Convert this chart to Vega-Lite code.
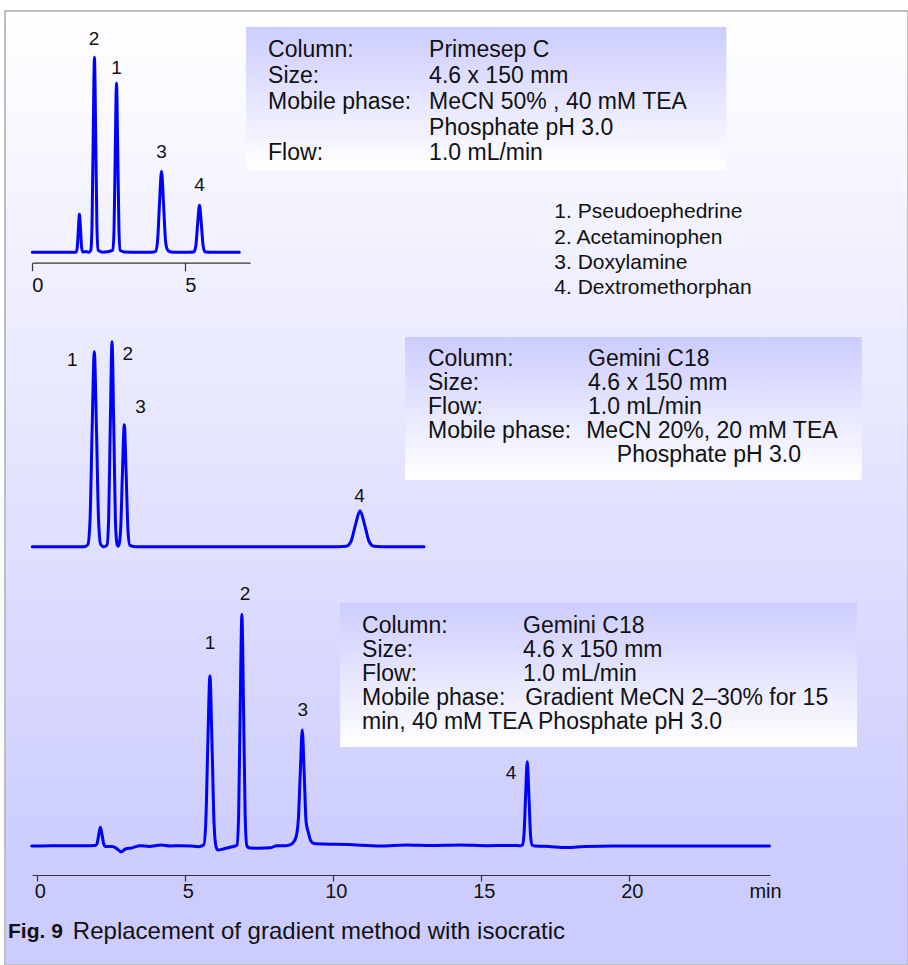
{
  "$schema": "https://vega.github.io/schema/vega-lite/v6.json",
  "width": 903,
  "height": 954,
  "autosize": {"type": "none"},
  "padding": {"left": 5, "top": 11, "right": 0, "bottom": 0},
  "background": "#ffffff",
  "config": {
    "view": {
      "fill": {"gradient": "linear", "x1": 0, "y1": 0, "x2": 0, "y2": 1,
        "stops": [{"offset": 0, "color": "#ffffff"}, {"offset": 0.9, "color": "#ccccff"}, {"offset": 1, "color": "#ccccff"}]},
      "stroke": "#bdbdbd",
      "strokeWidth": 2
    },
    "font": "Liberation Sans",
    "text": {"font": "Liberation Sans", "color": "#111111"}
  },
  "datasets": {
    "topTrace": [
      {"t": 0, "s": 0}, {"t": 1.40, "s": 0},
      {"t": 1.435, "s": 0.4}, {"t": 1.47, "s": 5.1}, {"t": 1.505, "s": 23.1}, {"t": 1.54, "s": 38}, {"t": 1.575, "s": 23.1}, {"t": 1.61, "s": 5.1}, {"t": 1.645, "s": 0.4},
      {"t": 1.75, "s": 0.8}, {"t": 1.85, "s": 0},
      {"t": 1.91, "s": 2.1}, {"t": 1.95, "s": 26.3}, {"t": 1.99, "s": 118.4}, {"t": 2.03, "s": 195}, {"t": 2.07, "s": 118.4}, {"t": 2.11, "s": 26.3}, {"t": 2.15, "s": 2.1},
      {"t": 2.3, "s": 0},
      {"t": 2.63, "s": 1.9}, {"t": 2.67, "s": 22.8}, {"t": 2.71, "s": 102.6}, {"t": 2.75, "s": 169}, {"t": 2.79, "s": 102.6}, {"t": 2.83, "s": 22.8}, {"t": 2.87, "s": 1.9},
      {"t": 3.0, "s": 0.4}, {"t": 3.5, "s": 0}, {"t": 3.9, "s": 0},
      {"t": 4.025, "s": 0.9}, {"t": 4.09, "s": 10.9}, {"t": 4.155, "s": 49.2}, {"t": 4.22, "s": 81}, {"t": 4.285, "s": 49.2}, {"t": 4.35, "s": 12}, {"t": 4.415, "s": 2.5}, {"t": 4.5, "s": 0.6}, {"t": 4.7, "s": 0},
      {"t": 5.15, "s": 0},
      {"t": 5.28, "s": 0.5}, {"t": 5.34, "s": 6.3}, {"t": 5.40, "s": 28.5}, {"t": 5.46, "s": 47}, {"t": 5.52, "s": 28.5}, {"t": 5.58, "s": 6.3}, {"t": 5.64, "s": 0.5}, {"t": 5.8, "s": 0},
      {"t": 6.76, "s": 0}
    ],
    "topText": [
      {"t": 2.02, "s": 213.3, "text": "2"},
      {"t": 2.75, "s": 184.3, "text": "1"},
      {"t": 4.22, "s": 100.3, "text": "3"},
      {"t": 5.46, "s": 67.3, "text": "4"}
    ],
    "topBox": [{"t0": 6.98, "t1": 22.67, "s0": 225.3, "s1": 82.3}],
    "topBoxText": [
      {"t": 7.70, "s": 202.3, "text": "Column:"},
      {"t": 7.70, "s": 176.3, "text": "Size:"},
      {"t": 7.70, "s": 150.3, "text": "Mobile phase:"},
      {"t": 7.70, "s": 99.3, "text": "Flow:"},
      {"t": 12.96, "s": 202.3, "text": "Primesep C"},
      {"t": 12.96, "s": 176.3, "text": "4.6 x 150 mm"},
      {"t": 12.96, "s": 150.3, "text": "MeCN 50% , 40 mM TEA"},
      {"t": 12.96, "s": 124.8, "text": "Phosphate pH 3.0"},
      {"t": 12.96, "s": 99.3, "text": "1.0 mL/min"}
    ],
    "legendText": [
      {"t": 17.05, "s": 40.3, "text": "1. Pseudoephedrine"},
      {"t": 17.05, "s": 14.8, "text": "2. Acetaminophen"},
      {"t": 17.05, "s": -10.2, "text": "3. Doxylamine"},
      {"t": 17.05, "s": -35.2, "text": "4. Dextromethorphan"}
    ],
    "midTrace": [
      {"t": 0, "s": 0}, {"t": 1.7, "s": 0},
      {"t": 1.816, "s": 2.1}, {"t": 1.886, "s": 26.3}, {"t": 1.956, "s": 118.4}, {"t": 2.026, "s": 195}, {"t": 2.096, "s": 118.4}, {"t": 2.166, "s": 26.3}, {"t": 2.236, "s": 2.1},
      {"t": 2.34, "s": 0},
      {"t": 2.44, "s": 1.5}, {"t": 2.495, "s": 27.7}, {"t": 2.55, "s": 124.4}, {"t": 2.605, "s": 205}, {"t": 2.66, "s": 124.4}, {"t": 2.715, "s": 27.7}, {"t": 2.77, "s": 2.3},
      {"t": 2.80, "s": 0.5},
      {"t": 2.826, "s": 1.3}, {"t": 2.886, "s": 16.5}, {"t": 2.946, "s": 74}, {"t": 3.006, "s": 122}, {"t": 3.066, "s": 74}, {"t": 3.126, "s": 16.5}, {"t": 3.186, "s": 1.3}, {"t": 3.35, "s": 0},
      {"t": 10.0, "s": 0},
      {"t": 10.26, "s": 0.4}, {"t": 10.41, "s": 4.9}, {"t": 10.56, "s": 21.9}, {"t": 10.71, "s": 36}, {"t": 10.86, "s": 21.9}, {"t": 11.01, "s": 4.9}, {"t": 11.16, "s": 0.4}, {"t": 11.4, "s": 0},
      {"t": 12.8, "s": 0}
    ],
    "midText": [
      {"t": 1.31, "s": 186.7, "text": "1"},
      {"t": 3.12, "s": 192.7, "text": "2"},
      {"t": 3.54, "s": 139.7, "text": "3"},
      {"t": 10.69, "s": 51, "text": "4"}
    ],
    "midBox": [{"t0": 12.18, "t1": 27.11, "s0": 209.7, "s1": 66.7}],
    "midBoxText": [
      {"t": 12.93, "s": 187.7, "text": "Column:"},
      {"t": 12.93, "s": 163.7, "text": "Size:"},
      {"t": 12.93, "s": 139.7, "text": "Flow:"},
      {"t": 12.93, "s": 115.7, "text": "Mobile phase:"},
      {"t": 18.16, "s": 187.7, "text": "Gemini C18"},
      {"t": 18.16, "s": 163.7, "text": "4.6 x 150 mm"},
      {"t": 18.16, "s": 139.7, "text": "1.0 mL/min"},
      {"t": 18.10, "s": 115.7, "text": "MeCN 20%, 20 mM TEA"},
      {"t": 19.10, "s": 91.7, "text": "Phosphate pH 3.0"}
    ],
    "botTrace": [
      {"t": -0.17, "s": 0}, {"t": 0.5, "s": 0.2}, {"t": 1.0, "s": 0.3}, {"t": 1.5, "s": 0.3}, {"t": 1.95, "s": 0.4},
      {"t": 1.985, "s": 0.6}, {"t": 2.04, "s": 2.5}, {"t": 2.095, "s": 11.4}, {"t": 2.15, "s": 18.7}, {"t": 2.205, "s": 11.4}, {"t": 2.26, "s": 2.5}, {"t": 2.32, "s": -0.5},
      {"t": 2.55, "s": -0.5}, {"t": 2.7, "s": -2.5}, {"t": 2.85, "s": -6}, {"t": 3.0, "s": -3}, {"t": 3.2, "s": -2}, {"t": 3.5, "s": 0.3}, {"t": 3.8, "s": -0.5}, {"t": 4.2, "s": 1}, {"t": 4.5, "s": 0}, {"t": 4.85, "s": 0.3}, {"t": 5.2, "s": 0}, {"t": 5.45, "s": -0.7},
      {"t": 5.64, "s": 1}, {"t": 5.71, "s": 23}, {"t": 5.78, "s": 103}, {"t": 5.85, "s": 170}, {"t": 5.92, "s": 103}, {"t": 5.99, "s": 23}, {"t": 6.06, "s": -1}, {"t": 6.12, "s": -4},
      {"t": 6.3, "s": -3}, {"t": 6.5, "s": -1.5}, {"t": 6.7, "s": 0},
      {"t": 6.765, "s": 0.8}, {"t": 6.82, "s": 31}, {"t": 6.875, "s": 141}, {"t": 6.93, "s": 231.7}, {"t": 6.985, "s": 141}, {"t": 7.04, "s": 31}, {"t": 7.1, "s": 0}, {"t": 7.2, "s": -2},
      {"t": 7.5, "s": -2.2}, {"t": 7.9, "s": -1.8}, {"t": 8.1, "s": 0.3}, {"t": 8.4, "s": 0.3}, {"t": 8.55, "s": 1.2},
      {"t": 8.65, "s": 3}, {"t": 8.76, "s": 9}, {"t": 8.84, "s": 28}, {"t": 8.905, "s": 75}, {"t": 8.97, "s": 116}, {"t": 9.035, "s": 72}, {"t": 9.1, "s": 24}, {"t": 9.17, "s": 14}, {"t": 9.26, "s": 5}, {"t": 9.36, "s": 2.5},
      {"t": 9.7, "s": 2}, {"t": 10.5, "s": 1.5}, {"t": 11.6, "s": 0}, {"t": 12.5, "s": 1}, {"t": 13.3, "s": 0.5}, {"t": 14.3, "s": 1}, {"t": 15.2, "s": 0.3}, {"t": 16.0, "s": 0.5}, {"t": 16.33, "s": 0.3},
      {"t": 16.405, "s": 0.9}, {"t": 16.46, "s": 11.4}, {"t": 16.515, "s": 51}, {"t": 16.57, "s": 84.3}, {"t": 16.625, "s": 51}, {"t": 16.68, "s": 11.4}, {"t": 16.735, "s": 0.9}, {"t": 16.85, "s": 0},
      {"t": 17.3, "s": -0.5}, {"t": 17.9, "s": -1.5}, {"t": 18.5, "s": -0.5}, {"t": 19.5, "s": 0}, {"t": 21, "s": 0}, {"t": 23, "s": 0}, {"t": 24.75, "s": 0}
    ],
    "botText": [
      {"t": 5.85, "s": 202.7, "text": "1"},
      {"t": 7.04, "s": 252, "text": "2"},
      {"t": 8.99, "s": 136, "text": "3"},
      {"t": 16.02, "s": 72.7, "text": "4"}
    ],
    "botBox": [{"t0": 10.25, "t1": 27.71, "s0": 243, "s1": 99}],
    "botBoxText": [
      {"t": 10.99, "s": 220, "text": "Column:"},
      {"t": 10.99, "s": 196, "text": "Size:"},
      {"t": 10.99, "s": 172, "text": "Flow:"},
      {"t": 10.99, "s": 148, "text": "Mobile phase:"},
      {"t": 10.99, "s": 124, "text": "min, 40 mM TEA Phosphate pH 3.0"},
      {"t": 16.43, "s": 220, "text": "Gemini C18"},
      {"t": 16.43, "s": 196, "text": "4.6 x 150 mm"},
      {"t": 16.43, "s": 172, "text": "1.0 mL/min"},
      {"t": 16.50, "s": 148, "text": "Gradient MeCN 2–30% for 15"}
    ],
    "caption": [
      {"t": -0.97, "s": -86, "text": "Fig. 9", "part": "bold"},
      {"t": 1.22, "s": -86, "text": "Replacement of gradient method with isocratic", "part": "normal"}
    ]
  },
  "layer": [
    {
      "layer": [
        {
          "data": {"name": "topBox"},
          "mark": {"type": "rect", "fill": {"gradient": "linear", "x1": 0, "y1": 0, "x2": 0, "y2": 1, "stops": [{"offset": 0, "color": "#ccccff"}, {"offset": 1, "color": "#ffffff"}]}},
          "encoding": {
            "x": {"field": "t0", "type": "quantitative"},
            "x2": {"field": "t1"},
            "y": {"field": "s0", "type": "quantitative", "axis": null},
            "y2": {"field": "s1"}
          }
        },
        {
          "data": {"name": "topTrace"},
          "mark": {"type": "line", "color": "#0000ff", "strokeWidth": 3, "interpolate": "monotone", "strokeJoin": "round", "strokeCap": "round"},
          "encoding": {
            "x": {"field": "t", "type": "quantitative",
              "scale": {"domain": [0, 7.11], "range": [27.3, 245], "nice": false, "zero": false},
              "axis": {"orient": "bottom", "offset": -702.3, "values": [0, 5], "format": "d", "title": null, "grid": false,
                "domainColor": "#333333", "domainWidth": 1.2, "tickColor": "#333333", "tickWidth": 1.2, "tickSize": 8,
                "labelFont": "Liberation Sans", "labelFontSize": 20, "labelColor": "#111111", "labelAlign": "center", "labelOffset": 5, "labelPadding": 5,
                "labelFlush": false, "labelOverlap": false}},
            "y": {"field": "s", "type": "quantitative",
              "scale": {"domain": [0, 200], "range": [241.3, 41.3], "nice": false, "zero": false}, "axis": null}
          }
        },
        {
          "data": {"name": "topText"},
          "mark": {"type": "text", "fontSize": 19, "align": "center", "baseline": "middle"},
          "encoding": {
            "x": {"field": "t", "type": "quantitative"},
            "y": {"field": "s", "type": "quantitative", "axis": null},
            "text": {"field": "text"}
          }
        },
        {
          "data": {"name": "topBoxText"},
          "mark": {"type": "text", "fontSize": 23, "align": "left", "baseline": "middle"},
          "encoding": {
            "x": {"field": "t", "type": "quantitative"},
            "y": {"field": "s", "type": "quantitative", "axis": null},
            "text": {"field": "text"}
          }
        },
        {
          "data": {"name": "legendText"},
          "mark": {"type": "text", "fontSize": 21, "align": "left", "baseline": "middle"},
          "encoding": {
            "x": {"field": "t", "type": "quantitative"},
            "y": {"field": "s", "type": "quantitative", "axis": null},
            "text": {"field": "text"}
          }
        }
      ]
    },
    {
      "layer": [
        {
          "data": {"name": "midBox"},
          "mark": {"type": "rect", "fill": {"gradient": "linear", "x1": 0, "y1": 0, "x2": 0, "y2": 1, "stops": [{"offset": 0, "color": "#ccccff"}, {"offset": 1, "color": "#ffffff"}]}},
          "encoding": {
            "x": {"field": "t0", "type": "quantitative", "axis": null},
            "x2": {"field": "t1"},
            "y": {"field": "s0", "type": "quantitative", "axis": null},
            "y2": {"field": "s1"}
          }
        },
        {
          "data": {"name": "midTrace"},
          "mark": {"type": "line", "color": "#0000ff", "strokeWidth": 3, "interpolate": "monotone", "strokeJoin": "round", "strokeCap": "round"},
          "encoding": {
            "x": {"field": "t", "type": "quantitative",
              "scale": {"domain": [0, 12.8], "range": [27.3, 419], "nice": false, "zero": false}, "axis": null},
            "y": {"field": "s", "type": "quantitative",
              "scale": {"domain": [0, 200], "range": [535.7, 335.7], "nice": false, "zero": false}, "axis": null}
          }
        },
        {
          "data": {"name": "midText"},
          "mark": {"type": "text", "fontSize": 19, "align": "center", "baseline": "middle"},
          "encoding": {
            "x": {"field": "t", "type": "quantitative", "axis": null},
            "y": {"field": "s", "type": "quantitative", "axis": null},
            "text": {"field": "text"}
          }
        },
        {
          "data": {"name": "midBoxText"},
          "mark": {"type": "text", "fontSize": 23, "align": "left", "baseline": "middle"},
          "encoding": {
            "x": {"field": "t", "type": "quantitative", "axis": null},
            "y": {"field": "s", "type": "quantitative", "axis": null},
            "text": {"field": "text"}
          }
        }
      ]
    },
    {
      "layer": [
        {
          "data": {"name": "botBox"},
          "mark": {"type": "rect", "fill": {"gradient": "linear", "x1": 0, "y1": 0, "x2": 0, "y2": 1, "stops": [{"offset": 0, "color": "#ccccff"}, {"offset": 1, "color": "#ffffff"}]}},
          "encoding": {
            "x": {"field": "t0", "type": "quantitative"},
            "x2": {"field": "t1"},
            "y": {"field": "s0", "type": "quantitative", "axis": null},
            "y2": {"field": "s1"}
          }
        },
        {
          "data": {"name": "botTrace"},
          "mark": {"type": "line", "color": "#0000ff", "strokeWidth": 3, "interpolate": "monotone", "strokeJoin": "round", "strokeCap": "round"},
          "encoding": {
            "x": {"field": "t", "type": "quantitative",
              "scale": {"domain": [-0.16, 24.77], "range": [27, 765], "nice": false, "zero": false},
              "axis": {"orient": "bottom", "offset": -90, "values": [0, 5, 10, 15, 20, 24.5], "format": "d", "title": null, "grid": false,
                "labelExpr": "datum.value > 22 ? 'min' : datum.label",
                "tickOpacity": {"condition": {"test": "datum.value > 22", "value": 0}, "value": 1},
                "domainColor": "#333333", "domainWidth": 1.2, "tickColor": "#333333", "tickWidth": 1.2, "tickSize": 6,
                "labelFont": "Liberation Sans", "labelFontSize": 20, "labelColor": "#111111", "labelAlign": "center", "labelOffset": 3, "labelPadding": 0,
                "labelFlush": false, "labelOverlap": false}},
            "y": {"field": "s", "type": "quantitative",
              "scale": {"domain": [0, 250], "range": [835, 585], "nice": false, "zero": false}, "axis": null}
          }
        },
        {
          "data": {"name": "botText"},
          "mark": {"type": "text", "fontSize": 19, "align": "center", "baseline": "middle"},
          "encoding": {
            "x": {"field": "t", "type": "quantitative"},
            "y": {"field": "s", "type": "quantitative", "axis": null},
            "text": {"field": "text"}
          }
        },
        {
          "data": {"name": "botBoxText"},
          "mark": {"type": "text", "fontSize": 23, "align": "left", "baseline": "middle"},
          "encoding": {
            "x": {"field": "t", "type": "quantitative"},
            "y": {"field": "s", "type": "quantitative", "axis": null},
            "text": {"field": "text"}
          }
        },
        {
          "data": {"name": "caption"},
          "transform": [{"filter": "datum.part === 'bold'"}],
          "mark": {"type": "text", "align": "left", "baseline": "middle", "fontWeight": "bold", "fontSize": 21},
          "encoding": {
            "x": {"field": "t", "type": "quantitative"},
            "y": {"field": "s", "type": "quantitative", "axis": null},
            "text": {"field": "text"}
          }
        },
        {
          "data": {"name": "caption"},
          "transform": [{"filter": "datum.part === 'normal'"}],
          "mark": {"type": "text", "align": "left", "baseline": "middle", "fontWeight": "normal", "fontSize": 24},
          "encoding": {
            "x": {"field": "t", "type": "quantitative"},
            "y": {"field": "s", "type": "quantitative", "axis": null},
            "text": {"field": "text"}
          }
        }
      ]
    }
  ],
  "resolve": {"scale": {"x": "independent", "y": "independent"}}
}
